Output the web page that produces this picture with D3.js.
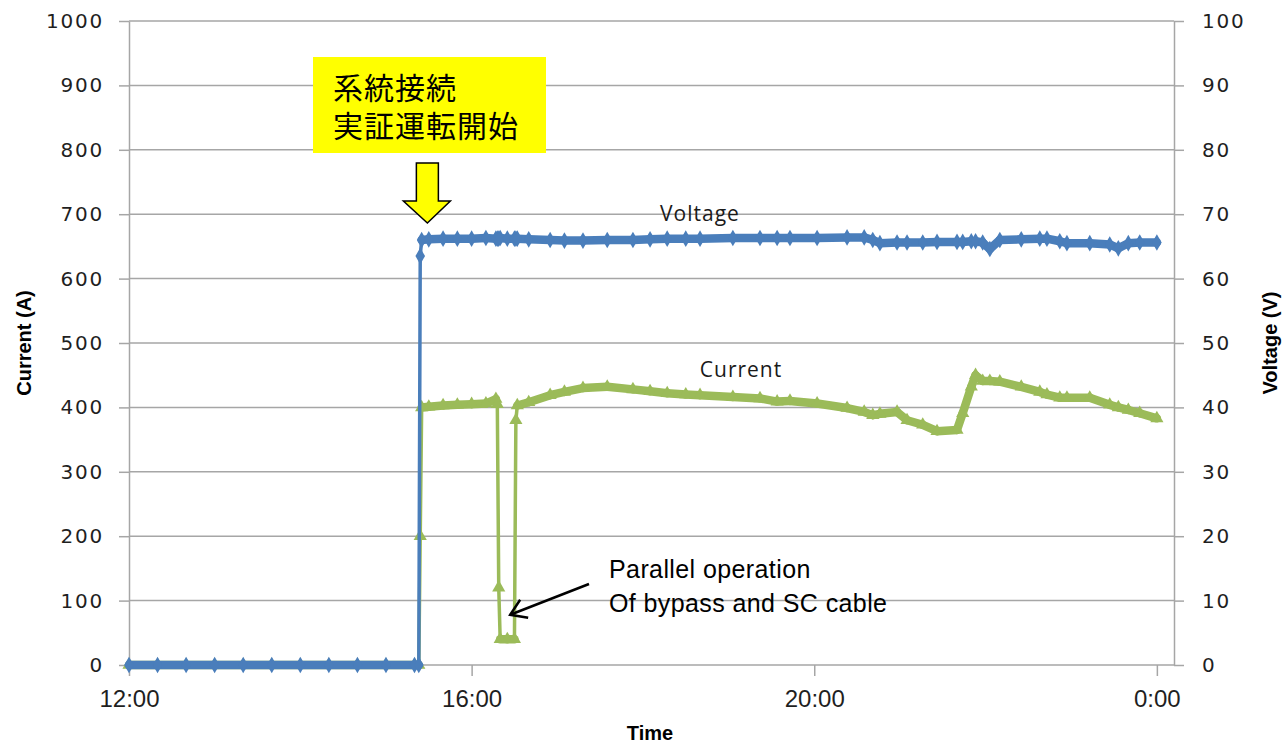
<!DOCTYPE html>
<html>
<head>
<meta charset="utf-8">
<script src="https://cdn.jsdelivr.net/npm/d3@7"></script>
<style>
  body { margin: 0; background: #fff; }
  svg { display: block; }
</style>
</head>
<body>
<script>
// readings, one entry per time stamp
var times = ['12:00','12:20','12:40','13:00','13:20','13:40','14:00','14:20','14:40','15:00','15:20','15:23',
  '15:24','15:25','15:30','15:40','15:50','16:00','16:10','16:17','16:18','16:19','16:20','16:25','16:30','16:31',
  '16:32','16:40','16:55','17:05','17:18','17:35','17:53','18:05','18:17','18:30','18:40','19:03','19:22','19:34',
  '19:43','20:02','20:23','20:35','20:41','20:46','20:58','21:05','21:16','21:26','21:40','21:44','21:50','21:53',
  '21:58','22:03','22:10','22:25','22:38','22:43','22:52','22:57','23:13','23:27','23:33','23:40','23:48','0:00'];

var currentA = [0,0,0,0,0,0,0,0,0,0,0,0,
  200,400,401,403,404,405,406,413,405,120,40,40,40,380,
  403,408,419,424,430,432,428,425,422,420,419,416,414,409,
  410,406,399,393,388,390,393,380,373,363,365,391,432,450,
  441,441,440,432,424,420,415,415,415,404,400,396,391,383];

var voltageV = [0,0,0,0,0,0,0,0,0,0,0,0,
  63.5,66.0,66.1,66.2,66.2,66.2,66.3,66.2,66.2,66.2,66.3,66.2,66.2,66.2,
  66.2,66.1,66.0,65.9,65.9,66.0,66.0,66.1,66.2,66.2,66.2,66.3,66.3,66.3,
  66.3,66.3,66.4,66.4,66.0,65.5,65.6,65.6,65.6,65.7,65.7,65.7,65.8,65.8,
  65.6,64.6,66.0,66.1,66.2,66.2,65.8,65.5,65.5,65.3,64.7,65.5,65.6,65.6];

var leftTicks = [0,100,200,300,400,500,600,700,800,900,1000];
var rightTicks = [0,10,20,30,40,50,60,70,80,90,100];
var timeTicks = ['12:00','16:00','20:00','0:00'];

if (times.length !== currentA.length || times.length !== voltageV.length) {
  console.error('length mismatch', times.length, currentA.length, voltageV.length);
}

// "H:MM" -> hours, after-midnight times go past 24
var toHours = function(s) {
  var p = s.split(':');
  var h = +p[0] + (+p[1]) / 60;
  return h < 12 ? h + 24 : h;
};

var W = 1282, H = 744;
var plotL = 129, plotR = 1174, plotT = 21, plotB = 665;

var svg = d3.select('body').append('svg')
  .attr('width', W)
  .attr('height', H);

var x = d3.scaleLinear().domain([12, 24.2]).range([plotL, plotR]);
var yA = d3.scaleLinear().domain([0, 1000]).range([plotB, plotT]);
var yV = d3.scaleLinear().domain([0, 100]).range([plotB, plotT]);

var gridColor = '#a6a6a6';
var tickFont = '"DejaVu Sans", Verdana, sans-serif';

// gridlines
svg.append('g').selectAll('line')
  .data(leftTicks.filter(function(d) { return d > 0; }))
  .enter().append('line')
  .attr('x1', plotL).attr('x2', plotR)
  .attr('y1', function(d) { return yA(d); })
  .attr('y2', function(d) { return yA(d); })
  .attr('stroke', gridColor)
  .attr('stroke-width', 1.5);

var styleAxis = function(g) {
  g.selectAll('path.domain').attr('stroke', gridColor).attr('stroke-width', 1.5);
  g.selectAll('.tick line').attr('stroke', gridColor).attr('stroke-width', 1.5);
  g.selectAll('.tick text').attr('fill', '#1f1f1f');
};

var axL = svg.append('g')
  .attr('transform', 'translate(' + plotL + ',0)')
  .call(d3.axisLeft(yA).tickValues(leftTicks).tickFormat(d3.format('d'))
    .tickSize(10).tickSizeOuter(0).tickPadding(15))
  .attr('font-family', tickFont).attr('font-size', 20);
axL.selectAll('.tick text').attr('letter-spacing', '1.8px');
styleAxis(axL);

var axR = svg.append('g')
  .attr('transform', 'translate(' + plotR + ',0)')
  .call(d3.axisRight(yV).tickValues(rightTicks).tickFormat(d3.format('d'))
    .tickSize(10).tickSizeOuter(0).tickPadding(18))
  .attr('font-family', tickFont).attr('font-size', 20);
axR.selectAll('.tick text').attr('letter-spacing', '1.8px');
styleAxis(axR);

var axB = svg.append('g')
  .attr('transform', 'translate(0,' + plotB + ')')
  .call(d3.axisBottom(x).tickValues(timeTicks.map(toHours)).tickSize(11).tickSizeOuter(0).tickPadding(14)
    .tickFormat(function(d, i) { return timeTicks[i]; }))
  .attr('font-family', '"Liberation Sans", Arial, sans-serif').attr('font-size', 24);
styleAxis(axB);
axB.select('path.domain').attr('d', 'M' + plotL + ',0H' + plotR);

// axis titles
var titleFont = '"Liberation Sans Narrow", "Liberation Sans", Arial, sans-serif';
svg.append('text')
  .attr('transform', 'translate(31,343) rotate(-90)')
  .attr('text-anchor', 'middle')
  .attr('font-family', titleFont).attr('font-weight', 'bold').attr('font-size', 20)
  .text('Current (A)');
svg.append('text')
  .attr('transform', 'translate(1277,343) rotate(-90)')
  .attr('text-anchor', 'middle')
  .attr('font-family', titleFont).attr('font-weight', 'bold').attr('font-size', 20)
  .text('Voltage (V)');
svg.append('text')
  .attr('x', 650).attr('y', 740)
  .attr('text-anchor', 'middle')
  .attr('font-family', titleFont).attr('font-weight', 'bold').attr('font-size', 20)
  .text('Time');

// series
var drawSeries = function(values, yScale, color, symbolType, symbolSize) {
  var pts = times.map(function(t, i) { return [x(toHours(t)), yScale(values[i])]; });
  var g = svg.append('g');
  g.append('path')
    .attr('d', d3.line()(pts))
    .attr('fill', 'none')
    .attr('stroke', color)
    .attr('stroke-width', 3.5)
    .attr('stroke-linejoin', 'round');
  // dense-marker look: thick band where readings are logged steadily, thin on the quick jumps
  var segs = d3.pairs(pts).filter(function(p) { return p[1][0] - p[0][0] > 3; });
  g.selectAll('line.band').data(segs).enter().append('line')
    .attr('class', 'band')
    .attr('x1', function(d) { return d[0][0]; })
    .attr('y1', function(d) { return d[0][1]; })
    .attr('x2', function(d) { return d[1][0]; })
    .attr('y2', function(d) { return d[1][1]; })
    .attr('stroke', color)
    .attr('stroke-width', 8.5)
    .attr('stroke-linecap', 'round');
  g.selectAll('path.mk').data(pts).enter().append('path')
    .attr('class', 'mk')
    .attr('transform', function(d) { return 'translate(' + d[0] + ',' + d[1] + ')'; })
    .attr('d', d3.symbol().type(symbolType).size(symbolSize))
    .attr('fill', color);
};

drawSeries(currentA, yA, '#9bbb59', d3.symbolTriangle, 75);
drawSeries(voltageV, yV, '#4a7ebb', d3.symbolDiamond, 80);

// series labels
svg.append('text')
  .attr('x', 700).attr('y', 221)
  .attr('text-anchor', 'middle')
  .attr('font-family', '"Open Sans", sans-serif').attr('font-size', 21)
  .attr('letter-spacing', '1px')
  .attr('fill', '#1a1a1a')
  .text('Voltage');
svg.append('text')
  .attr('x', 741).attr('y', 377)
  .attr('text-anchor', 'middle')
  .attr('font-family', '"Open Sans", sans-serif').attr('font-size', 21)
  .attr('letter-spacing', '1px')
  .attr('fill', '#1a1a1a')
  .text('Current');

// yellow callout box
svg.append('rect')
  .attr('x', 313).attr('y', 57).attr('width', 233).attr('height', 96)
  .attr('fill', '#ffff00');
var jp = svg.append('text')
  .attr('font-family', '"Noto Sans CJK JP", sans-serif')
  .attr('font-size', 30)
  .attr('letter-spacing', '1px')
  .attr('fill', '#000');
jp.append('tspan').attr('x', 333).attr('y', 99).text('系統接続');
jp.append('tspan').attr('x', 333).attr('y', 137).text('実証運転開始');

// yellow down arrow pointing at the start of the run
var ax = x(toHours('15:29'));
svg.append('path')
  .attr('d', 'M' + (ax - 11) + ',163 H' + (ax + 11) + ' V201 H' + (ax + 23) +
    ' L' + ax + ',223 L' + (ax - 24) + ',201 H' + (ax - 11) + ' Z')
  .attr('fill', '#ffff00')
  .attr('stroke', '#000')
  .attr('stroke-width', 1.5)
  .attr('stroke-linejoin', 'miter');

// black arrow to the parallel-operation dip
var tipX = x(toHours('16:27')), tipY = yA(78);
svg.append('line')
  .attr('x1', 589).attr('y1', 584)
  .attr('x2', tipX).attr('y2', tipY)
  .attr('stroke', '#000').attr('stroke-width', 2.5);
svg.append('path')
  .attr('d', 'M' + (tipX + 10) + ',' + (tipY - 15) + ' L' + tipX + ',' + tipY + ' L' + (tipX + 18) + ',' + (tipY + 3))
  .attr('fill', 'none')
  .attr('stroke', '#000').attr('stroke-width', 2.5);

var note = svg.append('text')
  .attr('font-family', '"Liberation Sans", Arial, sans-serif')
  .attr('font-size', 25)
  .attr('letter-spacing', '0.4px')
  .attr('fill', '#000');
note.append('tspan').attr('x', 609).attr('y', 578).text('Parallel operation');
note.append('tspan').attr('x', 609).attr('y', 612).text('Of bypass and SC cable');
</script>
</body>
</html>
